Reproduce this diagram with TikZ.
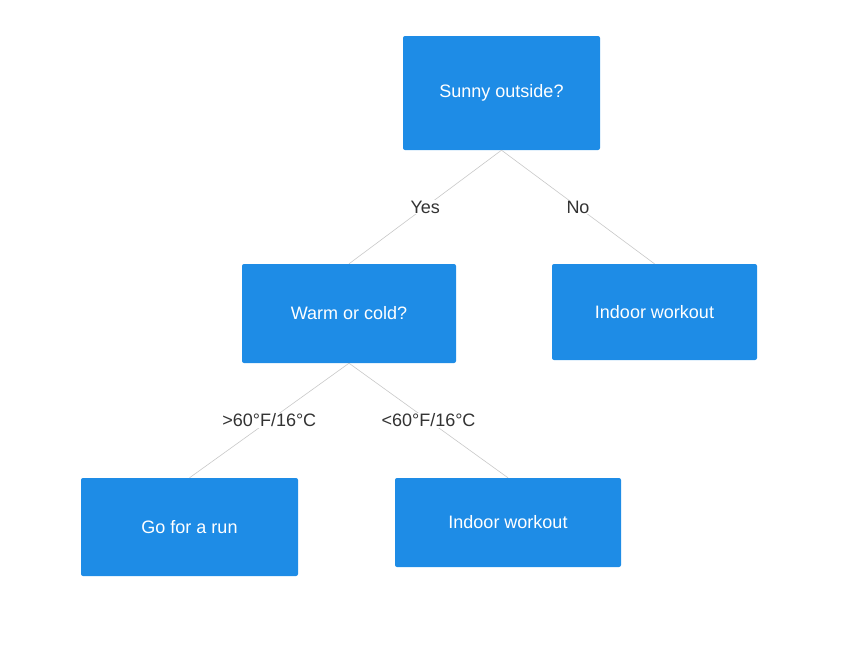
\documentclass[tikz,border=0pt]{standalone}
\usepackage{fontspec}
\setmainfont{Liberation Sans}
\definecolor{boxblue}{HTML}{1E8CE6}
\definecolor{labelgray}{HTML}{333333}
\definecolor{linegray}{HTML}{C8C8C8}
\tikzset{
  choice/.style={rectangle, fill=boxblue, text=white, rounded corners=2pt,
    font=\fontsize{18}{22}\selectfont, inner sep=0pt},
  branch/.style={draw=linegray, line width=0.6pt},
  answer/.style={fill=white, text=labelgray, inner sep=1pt,
    font=\fontsize{18}{22}\selectfont}
}
\begin{document}
\begin{tikzpicture}[x=1pt,y=-1pt]
  \useasboundingbox (0,0) rectangle (860,648);
  \node[choice, minimum width=197pt, minimum height=114pt] (sunny) at (501.5,93) {Sunny outside?};
  \node[choice, minimum width=214pt, minimum height=99pt] (warm) at (349,313.5) {Warm or cold?};
  \node[choice, minimum width=205pt, minimum height=96pt] (indoorA) at (654.5,312) {Indoor workout};
  \node[choice, minimum width=217pt, minimum height=98pt] (run) at (189.5,527) {Go for a run};
  \node[choice, minimum width=226pt, minimum height=89pt] (indoorB) at (508,522.5) {Indoor workout};

  \path[branch] (sunny.south) -- node[answer] {Yes} (warm.north);
  \path[branch] (sunny.south) -- node[answer] {No} (indoorA.north);
  \path[branch] (warm.south) -- node[answer] {>60°F/16°C} (run.north);
  \path[branch] (warm.south) -- node[answer] {<60°F/16°C} (indoorB.north);
\end{tikzpicture}
\end{document}
